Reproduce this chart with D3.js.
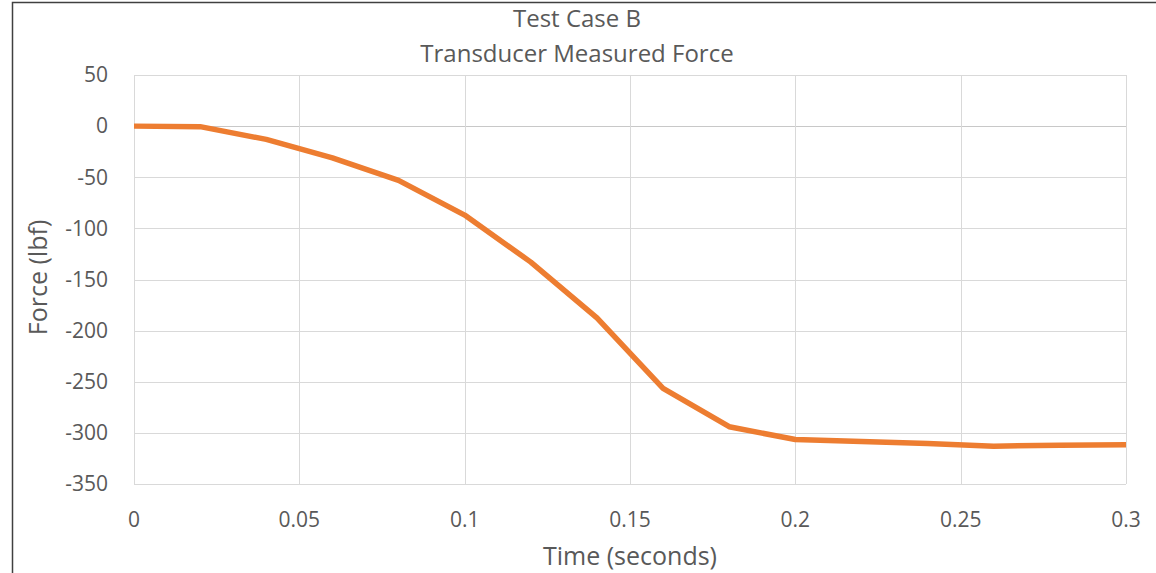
<!DOCTYPE html>
<html>
<head>
<meta charset="utf-8">
<script src="https://cdn.jsdelivr.net/npm/d3@7"></script>
<style>
  body { margin: 0; background: #fff; }
  text { font-family: "Open Sans", Lato, sans-serif; fill: #595959; }
</style>
</head>
<body>
<svg></svg>
<script>
const times = [0, 0.02, 0.04, 0.06, 0.08, 0.1, 0.12, 0.14, 0.16, 0.18, 0.2, 0.22, 0.24, 0.26, 0.28, 0.3];
const forces = [0, -0.5, -13, -31, -53, -87, -133, -187.5, -256.5, -294, -306.5, -308.5, -310.5, -313, -312, -311.5];
const xTicks = [0, 0.05, 0.1, 0.15, 0.2, 0.25, 0.3];
const yTicks = [50, 0, -50, -100, -150, -200, -250, -300, -350];
const titleLines = ['Test Case B', 'Transducer Measured Force'];

const width = 1156;
const height = 573;
const margin = { left: 134, top: 75, right: 30, bottom: 89 };

const svg = d3.select('svg').attr('width', width).attr('height', height);

svg.append('rect')
  .attr('x', 12.5).attr('y', 2.5)
  .attr('width', width + 10).attr('height', height + 10)
  .attr('fill', 'none').attr('stroke', '#404040').attr('stroke-width', 1.5);

const x = d3.scaleLinear().domain([0, 0.3]).range([margin.left, width - margin.right]);
const y = d3.scaleLinear().domain([-350, 50]).range([height - margin.bottom, margin.top]);

// gridlines
svg.append('g')
  .selectAll('line')
  .data(yTicks)
  .enter()
  .append('line')
  .attr('x1', x(0)).attr('x2', x(0.3))
  .attr('y1', (d) => Math.round(y(d)) + 0.5).attr('y2', (d) => Math.round(y(d)) + 0.5)
  .attr('stroke', (d) => (d === 0 ? '#c8c8c8' : '#d9d9d9'));

svg.append('g')
  .selectAll('line')
  .data(xTicks)
  .enter()
  .append('line')
  .attr('y1', y(50)).attr('y2', y(-350))
  .attr('x1', (d) => Math.round(x(d)) + 0.5).attr('x2', (d) => Math.round(x(d)) + 0.5)
  .attr('stroke', '#d9d9d9');

// tick labels
svg.append('g')
  .selectAll('text')
  .data(yTicks)
  .enter()
  .append('text')
  .attr('x', x(0) - 26)
  .attr('y', (d) => y(d))
  .attr('dy', '0.35em')
  .attr('text-anchor', 'end')
  .style('font-size', '21px')
  .text((d) => d);

svg.append('g')
  .selectAll('text')
  .data(xTicks)
  .enter()
  .append('text')
  .attr('x', (d) => x(d))
  .attr('y', y(-350) + 43)
  .attr('text-anchor', 'middle')
  .style('font-size', '21px')
  .text((d) => d);

// titles
svg.append('g')
  .selectAll('text')
  .data(titleLines)
  .enter()
  .append('text')
  .attr('x', 577)
  .attr('y', (d, i) => 27 + i * 35)
  .attr('text-anchor', 'middle')
  .style('font-size', '24px')
  .text((d) => d);

svg.append('text')
  .attr('x', 630)
  .attr('y', 565)
  .attr('text-anchor', 'middle')
  .style('font-size', '25px')
  .text('Time (seconds)');

svg.append('text')
  .attr('transform', `translate(47, ${y(-148)}) rotate(-90)`)
  .attr('text-anchor', 'middle')
  .style('font-size', '25px')
  .text('Force (lbf)');

// line
const line = d3.line()
  .x((d, i) => x(times[i]))
  .y((d) => y(d));

svg.append('path')
  .datum(forces)
  .attr('d', line)
  .attr('fill', 'none')
  .attr('stroke', '#ED7D31')
  .attr('stroke-width', 5.5)
  .attr('stroke-linejoin', 'round');
</script>
</body>
</html>
